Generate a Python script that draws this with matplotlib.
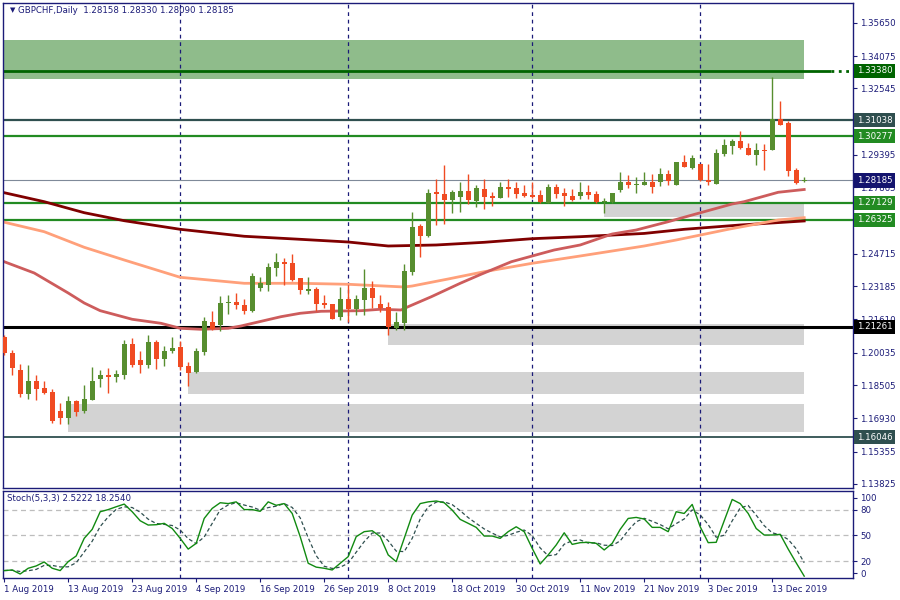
import numpy as np
import pandas as pd
import matplotlib
matplotlib.use("Agg")
from matplotlib import pyplot as plt
from matplotlib import transforms

# daily candles, 1 Aug 2019 .. 19 Dec 2019 (bar index = trading day)
opens = [1.20795, 1.20038, 1.19218, 1.18082, 1.18697, 1.18366, 1.18177, 1.17277, 1.16946, 1.17751,
         1.17277, 1.17798, 1.18792, 1.18981, 1.18886, 1.18981, 1.20448, 1.19691, 1.19454, 1.20542,
         1.19738, 1.20117, 1.20306, 1.19407, 1.19123, 1.20069, 1.21489, 1.21347, 1.22404, 1.22435,
         1.22293, 1.22009, 1.23098, 1.23240, 1.24044, 1.24328, 1.24281, 1.23571, 1.22956, 1.23050,
         1.22388, 1.22341, 1.21725, 1.22577, 1.22104, 1.22530, 1.23098, 1.22341, 1.22199, 1.21205,
         1.21441, 1.23854, 1.26031, 1.25558, 1.27640, 1.27545, 1.27261, 1.27403, 1.27687, 1.27214,
         1.27782, 1.27451, 1.27356, 1.27876, 1.27829, 1.27592, 1.27498, 1.27498, 1.27119, 1.27876,
         1.27592, 1.27451, 1.27451, 1.27640, 1.27545, 1.27167, 1.27167, 1.27734, 1.28113, 1.27987,
         1.27987, 1.28129, 1.28129, 1.28492, 1.27987, 1.29059, 1.28791, 1.28965, 1.28208, 1.28034,
         1.29438, 1.29817, 1.30053, 1.29722, 1.29391, 1.29627, 1.29627, 1.31094, 1.30905, 1.28681,
         1.28158]
highs = [1.20874, 1.20164, 1.19501, 1.19454, 1.18981, 1.18713, 1.18318, 1.17656, 1.17987, 1.17798,
         1.18508, 1.19359, 1.19218, 1.19312, 1.19218, 1.20637, 1.20732, 1.20117, 1.20874, 1.20637,
         1.20353, 1.20779, 1.20590, 1.19596, 1.20259, 1.21725, 1.22009, 1.22719, 1.22766, 1.22861,
         1.22577, 1.23807, 1.23618, 1.24281, 1.24754, 1.24517, 1.24707, 1.23571, 1.23618, 1.23145,
         1.22766, 1.22341, 1.23145, 1.23240, 1.22766, 1.23997, 1.23429, 1.22766, 1.22435, 1.21962,
         1.24233, 1.26693, 1.26126, 1.27782, 1.28255, 1.28917, 1.27734, 1.28113, 1.28492, 1.27971,
         1.28255, 1.27640, 1.28113, 1.28255, 1.28113, 1.27971, 1.28113, 1.27734, 1.28018, 1.28018,
         1.27829, 1.27782, 1.28113, 1.27971, 1.27687, 1.27356, 1.27592, 1.28586, 1.28444, 1.28350,
         1.28586, 1.28492, 1.28776, 1.28681, 1.29059, 1.29391, 1.29391, 1.28965, 1.28965, 1.29675,
         1.30148, 1.30148, 1.30526, 1.29959, 1.29959, 1.29911, 1.33082, 1.31946, 1.31000, 1.28776,
         1.28330]
lows = [1.19927, 1.18981, 1.17956, 1.17845, 1.17798, 1.18082, 1.16710, 1.16662, 1.16662, 1.17041,
        1.17183, 1.17798, 1.18413, 1.18129, 1.18650, 1.18792, 1.19359, 1.19076, 1.19312, 1.19265,
        1.19407, 1.20022, 1.19218, 1.18460, 1.19076, 1.19927, 1.21110, 1.21063, 1.21867, 1.22104,
        1.21867, 1.21962, 1.22956, 1.22956, 1.23666, 1.23240, 1.23429, 1.22814, 1.22814, 1.22009,
        1.22151, 1.21631, 1.21583, 1.21489, 1.21820, 1.21820, 1.22151, 1.21962, 1.20874, 1.21110,
        1.21110, 1.23712, 1.24564, 1.25510, 1.26078, 1.26126, 1.26646, 1.26693, 1.27072, 1.26930,
        1.26835, 1.26977, 1.27356, 1.27403, 1.27356, 1.27403, 1.27356, 1.27119, 1.27119, 1.27356,
        1.26977, 1.27214, 1.27309, 1.27309, 1.27119, 1.26646, 1.27119, 1.27640, 1.27829, 1.27592,
        1.27987, 1.27608, 1.27940, 1.27987, 1.27987, 1.28839, 1.28744, 1.28176, 1.27987, 1.28034,
        1.29343, 1.29438, 1.29675, 1.29391, 1.28918, 1.28681, 1.29627, 1.30810, 1.28397, 1.28034,
        1.28090]
closes = [1.20006, 1.19328, 1.18082, 1.18697, 1.18318, 1.18129, 1.16804, 1.16946, 1.17751, 1.17230,
          1.17845, 1.18697, 1.18981, 1.18886, 1.19028, 1.20448, 1.19454, 1.19454, 1.20542, 1.19738,
          1.20117, 1.20259, 1.19359, 1.19076, 1.20117, 1.21536, 1.21158, 1.22388, 1.22419, 1.22293,
          1.22009, 1.23666, 1.23334, 1.24091, 1.24328, 1.24233, 1.23476, 1.23003, 1.23050, 1.22341,
          1.22293, 1.21631, 1.22577, 1.22104, 1.22577, 1.23098, 1.22624, 1.22151, 1.21252, 1.21489,
          1.23902, 1.25984, 1.25558, 1.27592, 1.27545, 1.27261, 1.27640, 1.27687, 1.27261, 1.27829,
          1.27403, 1.27356, 1.27876, 1.27782, 1.27545, 1.27451, 1.27403, 1.27167, 1.27876, 1.27545,
          1.27451, 1.27261, 1.27640, 1.27498, 1.27167, 1.27214, 1.27592, 1.28113, 1.27971, 1.28018,
          1.28129, 1.27892, 1.28492, 1.28160, 1.29059, 1.28839, 1.29249, 1.28208, 1.28129, 1.29485,
          1.29864, 1.30053, 1.29722, 1.29391, 1.29627, 1.29596, 1.31094, 1.30810, 1.28634, 1.28082,
          1.28185]

# Stoch(5,3,3) main line
stoch_k = [9, 9.7, 5, 11.7, 14.4, 19, 11.7, 9, 19.4, 26,
           46.5, 57, 77.5, 80, 83.3, 86.4, 77.5, 67, 62, 62.4,
           64, 58, 46.5, 34, 40.7, 69.7, 81.4, 88, 87, 89,
           80, 80, 78, 89, 85, 87, 75.5, 48.5, 17.5, 13,
           11.7, 9.7, 17.5, 25.2, 48.5, 54.3, 55.4, 48.5, 27.2, 19.4,
           46.5, 73.6, 87, 89, 90, 88, 79.4, 68.6, 64, 59.3,
           49.2, 49.2, 46.5, 54.3, 60, 54.3, 34.9, 16.7, 27.2, 38.8,
           53, 39.5, 41.5, 41.9, 40.7, 33, 40.7, 57, 69.7, 70.9,
           69, 59.3, 59.3, 54.3, 77.5, 75.5, 86, 60, 41.5, 41.9,
           67, 91.8, 87, 75.5, 58, 50.4, 50.4, 51.2, 34, 18,
           2.52]

# moving averages (bar index, price)
ma50_bars = [0, 3.75, 8, 10, 12, 16, 19.6, 22, 24.6, 28, 29.6, 34.6, 37, 39.6, 44.6, 47, 49.6,
             50.5, 53.4, 57, 59.6, 63.4, 66, 68.75, 72, 76, 79, 83, 86, 91, 92.5, 96.75, 100]
ma50_vals = [1.24342, 1.23808, 1.22861, 1.22388, 1.22024, 1.21617, 1.21427, 1.21191, 1.21143,
             1.21191, 1.21300, 1.21740, 1.21901, 1.21995, 1.22024, 1.22090, 1.22057, 1.22213,
             1.22686, 1.23320, 1.23746, 1.24342, 1.24612, 1.24896, 1.25133, 1.25653, 1.25842,
             1.26235, 1.26552, 1.27073, 1.27182, 1.27627, 1.27759]
ma100_bars = [0, 5, 10, 15, 22, 30, 37, 43, 50, 51, 55.5, 60, 66, 72, 80, 84, 90.5, 96.75, 100]
ma100_vals = [1.26211, 1.25762, 1.25024, 1.24423, 1.23604, 1.23320, 1.23320, 1.23273, 1.23145,
              1.23192, 1.23524, 1.23869, 1.24267, 1.24612, 1.25085, 1.25369, 1.25875, 1.26316,
              1.26425]
ma200_bars = [0, 5, 10, 15, 22, 30, 37, 43, 48, 54, 60, 66, 72, 80, 85, 92, 100]
ma200_vals = [1.27607, 1.27182, 1.26661, 1.26282, 1.25875, 1.25545, 1.25402, 1.25274, 1.25085,
              1.25133, 1.25260, 1.25431, 1.25525, 1.25680, 1.25875, 1.26079, 1.26270]

# zones
band_low, band_high = 1.32988, 1.34833
zone_starts = [75, 48, 23, 8]
zone_lows = [1.26472, 1.20401, 1.18082, 1.16284]
zone_highs = [1.27182, 1.21394, 1.19123, 1.17609]

levels = [1.33380, 1.31038, 1.30277, 1.28185, 1.27129, 1.26325, 1.21261, 1.16046]
level_labels = ['1.33380', '1.31038', '1.30277', '1.28185', '1.27129', '1.26325', '1.21261', '1.16046']
level_colors = ['#006400', '#2f4f4f', '#228b22', '#7f8a99', '#228b22', '#228b22', '#000000', '#2f4f4f']
level_bg = ['#006400', '#2f4f4f', '#228b22', '#14146e', '#228b22', '#228b22', '#000000', '#2f4f4f']
level_lw = [2.0, 1.6, 1.6, 0.8, 1.6, 1.6, 2.2, 1.3]

price_ticks = [1.35650, 1.34075, 1.32545, 1.29395, 1.27865, 1.24715, 1.23185, 1.21610,
               1.20035, 1.18505, 1.16930, 1.15355, 1.13825]
date_ticks = [0, 8, 16, 24, 32, 40, 48, 56, 64, 72, 80, 88, 96]
date_labels = ['1 Aug 2019', '13 Aug 2019', '23 Aug 2019', '4 Sep 2019', '16 Sep 2019',
               '26 Sep 2019', '8 Oct 2019', '18 Oct 2019', '30 Oct 2019', '11 Nov 2019',
               '21 Nov 2019', '3 Dec 2019', '13 Dec 2019']
month_starts = [22, 43, 66, 87]

navy = '#1b1b78'
bull = '#578e2f'
bear = '#f04b22'

plt.rcParams['font.family'] = ['DejaVu Sans']
fig = plt.figure(figsize=(9, 6), dpi=100)
ax = fig.add_axes([3 / 900, 1 - 487.5 / 600, 850 / 900, 484.5 / 600])
axs = fig.add_axes([3 / 900, 1 - 578.3 / 600, 850 / 900, 87.6 / 600], sharex=ax)

x0, x1 = -0.15, 106.1
o = np.array(opens)
h = np.array(highs)
l = np.array(lows)
c = np.array(closes)
xs = np.arange(len(o))
up = c >= o
cols = np.where(up, bull, bear)

# zones
ax.fill_between([x0, 100], band_low, band_high, color='#8fbc8b', lw=0, zorder=1)
for s, lo, hi in zip(zone_starts, zone_lows, zone_highs):
    ax.fill_between([s, 100], lo, hi, color='#d3d3d3', lw=0, zorder=1)

for d in month_starts:
    ax.axvline(d, color=navy, lw=0.9, ls=(0, (3, 3)), zorder=1.5)
    axs.axvline(d, color=navy, lw=0.9, ls=(0, (3, 3)), zorder=1.5)

# horizontal levels
for lv, col, lw in zip(levels, level_colors, level_lw):
    if lv == 1.33380:
        ax.hlines(lv, x0, 103.4, color=col, lw=lw, zorder=2)
        ax.hlines(lv, 103.4, x1, color=col, lw=lw, ls=':', zorder=2)
    else:
        ax.axhline(lv, color=col, lw=lw, zorder=2)

# moving averages
ax.plot(ma200_bars, ma200_vals, color='#800000', lw=2.0, zorder=2.2)
ax.plot(ma100_bars, ma100_vals, color='#ffa07a', lw=2.0, zorder=2.2)
ax.plot(ma50_bars, ma50_vals, color='#cd5c5c', lw=2.0, zorder=2.2)

# candles
ax.vlines(xs, l, h, colors=cols, lw=1.0, zorder=3)
body_lo = np.minimum(o, c)
body_h = np.maximum(np.abs(c - o), 0.0004)
ax.bar(xs, body_h, bottom=body_lo, width=0.6, color=cols, lw=0, zorder=3.1)

ax.set_xlim(x0, x1)
ax.set_ylim(1.13657, 1.36584)
ax.yaxis.tick_right()
ax.set_yticks(price_ticks)
ax.set_yticklabels(['%.5f' % t for t in price_ticks])
ax.tick_params(axis='y', colors=navy, labelsize=6.2, length=3, pad=2, width=0.8)
ax.tick_params(axis='x', bottom=False, labelbottom=False)
for sp in ax.spines.values():
    sp.set_color(navy)
    sp.set_linewidth(1.0)

# level labels on the price scale
trans = transforms.blended_transform_factory(ax.transAxes, ax.transData)
for lv, txt, bg in zip(levels, level_labels, level_bg):
    ax.text(1.0045, lv, txt, transform=trans, color='white', fontsize=6.2,
            va='center', ha='left', zorder=5, clip_on=False,
            bbox=dict(boxstyle='square,pad=0.3', fc=bg, ec='none'))

fig.text(10 / 900, 1 - 10.5 / 600, '\u25bc', fontsize=5, color=navy, va='center')
fig.text(18 / 900, 1 - 10.5 / 600, 'GBPCHF,Daily  1.28158 1.28330 1.28090 1.28185',
         fontsize=6.2, color=navy, va='center')

# stochastic
k = pd.Series(stoch_k)
d = k.rolling(3, min_periods=1).mean()
for lvl in [20, 50, 80]:
    axs.axhline(lvl, color='#bdbdbd', lw=0.9, ls=(0, (4, 3)), zorder=1)
axs.plot(xs, d.values, color='#2f4f4f', lw=0.9, ls=(0, (3, 2)), zorder=3)
axs.plot(xs, k.values, color='#118a11', lw=1.0, zorder=4)
axs.set_ylim(0, 102)
axs.yaxis.tick_right()
axs.set_yticks([94, 80, 50, 20, 6])
axs.set_yticklabels(['100', '80', '50', '20', '0'])
axs.tick_params(axis='y', colors=navy, labelsize=6.2, length=3, pad=2, width=0.8)
axs.set_xticks(date_ticks)
axs.set_xticklabels(date_labels, ha='left')
axs.tick_params(axis='x', colors=navy, labelsize=6.2, length=3, pad=2, width=0.8)
for sp in axs.spines.values():
    sp.set_color(navy)
    sp.set_linewidth(1.0)
fig.text(7 / 900, 1 - 498.5 / 600, 'Stoch(5,3,3) 2.5222 18.2540', fontsize=6.2,
         color=navy, va='center')

fig.savefig('out.png', dpi=100, facecolor='white')
